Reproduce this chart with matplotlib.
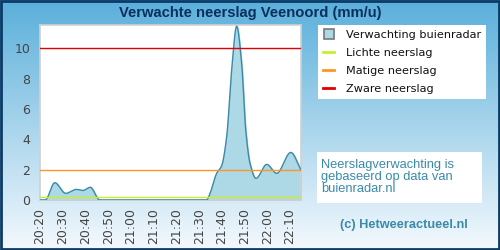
import numpy as np
import matplotlib
matplotlib.use('Agg')
import matplotlib.pyplot as plt
from matplotlib.lines import Line2D
from matplotlib.patches import Rectangle

# minutes after 20:20 and forecast (mm/u)
minutes = [0, 2.3, 6.5, 11.3, 16.0, 18.9, 22.1, 26.3, 30, 40, 50, 60, 70, 73.3,
           74.8, 77.7, 79.9, 82.1, 84.3, 86.5, 88.7, 90.5, 92.4, 95.0, 99.7,
           104.1, 110.3, 114.8]
rain = [0, 0, 1.14, 0.44, 0.70, 0.63, 0.84, 0, 0, 0, 0, 0, 0, 0,
        0.44, 1.76, 2.26, 4.17, 8.57, 11.47, 9.0, 4.6, 2.4, 1.43, 2.35,
        1.76, 3.14, 1.98]

tick_pos = [0, 10, 20, 30, 40, 50, 60, 70, 80, 90, 100, 110]
tick_labels = ['20:20', '20:30', '20:40', '20:50', '21:00', '21:10',
               '21:20', '21:30', '21:40', '21:50', '22:00', '22:10']

levels = [0.2, 2, 10]
level_names = ['Lichte neerslag', 'Matige neerslag', 'Zware neerslag']
level_colors = ['#c8f02c', '#ff9428', '#e00000']


def pchip(x, y, xs):
    # monotone cubic so the curve stays smooth but keeps its peaks
    x = np.asarray(x, float)
    y = np.asarray(y, float)
    h = np.diff(x)
    d = np.diff(y) / h
    m = np.zeros_like(y)
    for i in range(1, len(y) - 1):
        if d[i - 1] * d[i] > 0:
            w1 = 2 * h[i] + h[i - 1]
            w2 = h[i] + 2 * h[i - 1]
            m[i] = (w1 + w2) / (w1 / d[i - 1] + w2 / d[i])
    m[0] = d[0]
    m[-1] = d[-1]
    idx = np.clip(np.searchsorted(x, xs) - 1, 0, len(h) - 1)
    t = (xs - x[idx]) / h[idx]
    h00 = 2 * t**3 - 3 * t**2 + 1
    h10 = t**3 - 2 * t**2 + t
    h01 = -2 * t**3 + 3 * t**2
    h11 = t**3 - t**2
    return h00 * y[idx] + h10 * h[idx] * m[idx] + h01 * y[idx + 1] + h11 * h[idx] * m[idx + 1]


fig = plt.figure(figsize=(5, 2.5), dpi=100)

# gradient background
bg = fig.add_axes([0, 0, 1, 1], zorder=-10)
top = np.array([0x5a, 0xaf, 0xdb]) / 255
bottom = np.array([0xf4, 0xf9, 0xfd]) / 255
g = np.linspace(0, 1, 256)[:, None]
grad = top * (1 - g) + bottom * g
bg.imshow(grad[:, None, :], aspect='auto', extent=[0, 1, 0, 1])
bg.set_xlim(0, 1)
bg.set_ylim(0, 1)
bg.axis('off')
bg.add_patch(Rectangle((0.002, 0.004), 0.996, 0.992, fill=False,
                       edgecolor='#0b3a66', linewidth=2, transform=bg.transAxes))

fig.text(0.5, 0.95, 'Verwachte neerslag Veenoord (mm/u)', ha='center', va='center',
         fontsize=10.6, fontweight='bold', color='#0a2f5c', family='Liberation Sans')

ax = fig.add_axes([0.08, 0.2, 0.522, 0.7])
ax.set_facecolor('white')
xs = np.linspace(0, 114.8, 800)
ys = np.clip(pchip(minutes, rain, xs), 0, None)
ax.fill_between(xs, 0, ys, color='#add8e6', zorder=2)
ax.plot(xs, ys, color='#3a8aa8', linewidth=1, zorder=3)
for lv, c in zip(levels, level_colors):
    ax.axhline(lv, color=c, linewidth=1, zorder=4)

ax.set_xlim(0, 114.8)
ax.set_ylim(0, 11.55)
ax.set_yticks([0, 2, 4, 6, 8, 10])
ax.set_xticks(tick_pos)
ax.set_xticklabels(tick_labels, rotation=90)
ax.tick_params(length=0, labelsize=9, colors='#444444', pad=6)
ax.tick_params(axis='y', pad=7)
for s in ax.spines.values():
    s.set_color('#d0d0d0')
    s.set_linewidth(1.2)

handles = [Line2D([], [], marker='s', linestyle='none', markersize=6.5,
                  markerfacecolor='#add8e6', markeredgecolor='#777777', markeredgewidth=1.2)]
for c in level_colors:
    handles.append(Line2D([], [], color=c, linewidth=2))
leg = fig.legend(handles, ['Verwachting buienradar'] + level_names,
                 loc='upper left', bbox_to_anchor=(0.636, 0.9), fontsize=8.1,
                 frameon=True, fancybox=False, framealpha=1, handlelength=1.0,
                 handletextpad=1.0, labelspacing=0.72, borderpad=0.45,
                 borderaxespad=0)
leg.get_frame().set_facecolor('white')
leg.get_frame().set_edgecolor('white')
leg.get_frame().set_linewidth(0)
for t in leg.get_texts():
    t.set_color('#111111')

info = fig.add_axes([0.634, 0.188, 0.33, 0.205])
info.set_xticks([])
info.set_yticks([])
info.set_facecolor('white')
for s in info.spines.values():
    s.set_visible(False)
info.text(0.025, 0.5, 'Neerslagverwachting is\ngebaseerd op data van\nbuienradar.nl',
          ha='left', va='center', fontsize=9.3, color='#3a8aa8',
          family='Liberation Sans', linespacing=1.0, transform=info.transAxes)

fig.text(0.807, 0.1, '(c) Hetweeractueel.nl', ha='center', va='center',
         fontsize=9.2, fontweight='bold', color='#3a8aa8', family='Liberation Sans')

fig.savefig('out.png', dpi=100)
